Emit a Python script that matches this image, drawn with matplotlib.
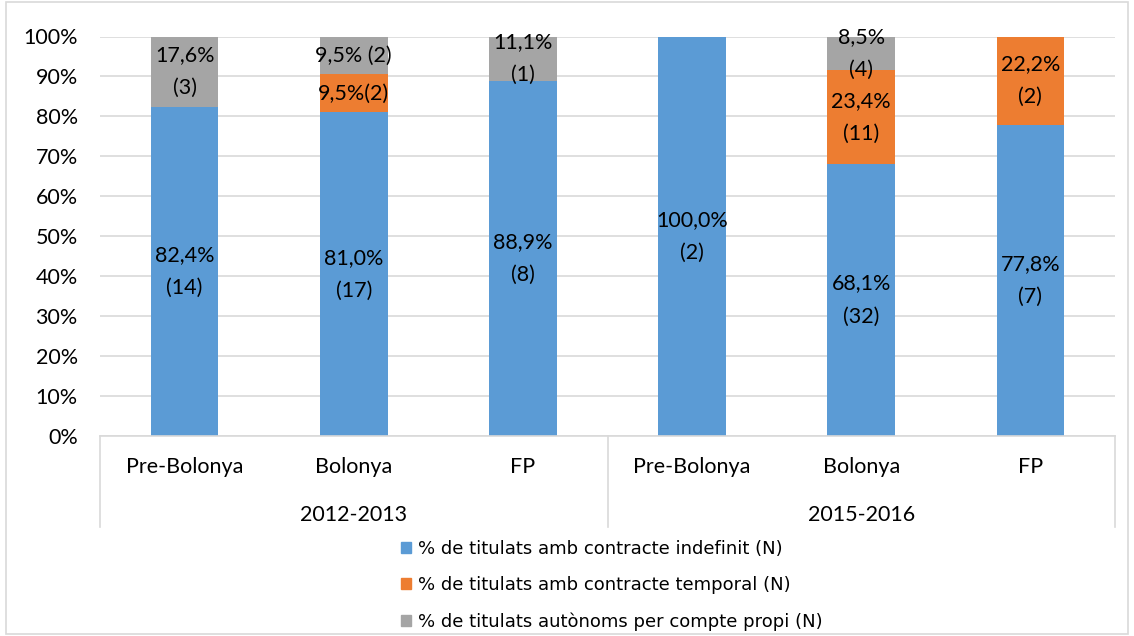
import matplotlib.pyplot as plt
import numpy as np
from matplotlib.patches import Patch, Rectangle

plt.rcParams['font.family'] = ['Lato', 'DejaVu Sans']

categories = ['Pre-Bolonya', 'Bolonya', 'FP', 'Pre-Bolonya', 'Bolonya', 'FP']
groups = ['2012-2013', '2015-2016']
indefinit = [82.4, 81.0, 88.9, 100.0, 68.1, 77.8]
temporal = [0.0, 9.5, 0.0, 0.0, 23.4, 22.2]
autonoms = [17.6, 9.5, 11.1, 0.0, 8.5, 0.0]
lab_indef = ['82,4%\n(14)', '81,0%\n(17)', '88,9%\n(8)', '100,0%\n(2)', '68,1%\n(32)', '77,8%\n(7)']
lab_temp = ['', '9,5%(2)', '', '', '23,4%\n(11)', '22,2%\n(2)']
lab_auto = ['17,6%\n(3)', '9,5% (2)', '11,1%\n(1)', '', '8,5%\n(4)', '']
legend_labels = ['% de titulats amb contracte indefinit (N)',
                 '% de titulats amb contracte temporal (N)',
                 '% de titulats autònoms per compte propi (N)']

blue, orange, grey = '#5B9BD5', '#ED7D31', '#A5A5A5'

fig = plt.figure(figsize=(11.34, 6.36), dpi=100)
ax = fig.add_axes([100/1134, 1-436/636, 1015/1134, 399.5/636])

x = np.arange(len(categories))
w = 0.40
ax.bar(x, indefinit, w, color=blue, zorder=2)
ax.bar(x, temporal, w, bottom=indefinit, color=orange, zorder=2)
bot3 = np.array(indefinit) + np.array(temporal)
ax.bar(x, autonoms, w, bottom=bot3, color=grey, zorder=2)

fs = 15.5
ls = 1.8
for i in range(len(x)):
    if lab_indef[i]:
        ax.text(x[i], indefinit[i]/2, lab_indef[i], ha='center', va='center', fontsize=fs, linespacing=ls, zorder=3)
    if lab_temp[i]:
        ax.text(x[i], indefinit[i]+temporal[i]/2, lab_temp[i], ha='center', va='center', fontsize=fs, linespacing=ls, zorder=3)
    if lab_auto[i]:
        ax.text(x[i], bot3[i]+autonoms[i]/2, lab_auto[i], ha='center', va='center', fontsize=fs, linespacing=ls, zorder=3)

ax.set_xlim(-0.5, len(x)-0.5)
ax.set_ylim(0, 100)
ax.set_yticks(np.arange(0, 101, 10))
ax.set_yticklabels([f'{v}%' for v in range(0, 101, 10)], fontsize=fs)
ax.tick_params(axis='y', length=0, pad=16)
ax.tick_params(axis='x', length=0, labelbottom=False)
ax.grid(axis='y', color='#D9D9D9', linewidth=1.2, zorder=0)
for s in ['left', 'right', 'top']:
    ax.spines[s].set_visible(False)
ax.spines['bottom'].set_color('#D9D9D9')
ax.spines['bottom'].set_linewidth(1.2)

# multi-level category axis
tr = ax.get_xaxis_transform()
ybot = -0.228
for xv in [-0.5, 2.5, 5.5]:
    ax.plot([xv, xv], [0, ybot], color='#D9D9D9', lw=1.2, transform=tr, clip_on=False)
for i, c in enumerate(categories):
    ax.text(x[i], -0.078, c, transform=tr, ha='center', va='center', fontsize=fs)
for g, gx in zip(groups, [1, 4]):
    ax.text(gx, -0.198, g, transform=tr, ha='center', va='center', fontsize=fs)

handles = [Patch(color=blue), Patch(color=orange), Patch(color=grey)]
fig.legend(handles, legend_labels, loc='upper left', bbox_to_anchor=(385/1134, 1-524/636),
           frameon=False, handlelength=0.55, handleheight=0.55,
           handletextpad=0.4, labelspacing=1.0, prop={'family': 'DejaVu Sans', 'size': 13})

fig.patches.append(Rectangle((6/1134, 2/636), 1122/1134, 632/636, transform=fig.transFigure,
                             fill=False, edgecolor='#D9D9D9', lw=1.2))

fig.savefig('out.png', dpi=100)
